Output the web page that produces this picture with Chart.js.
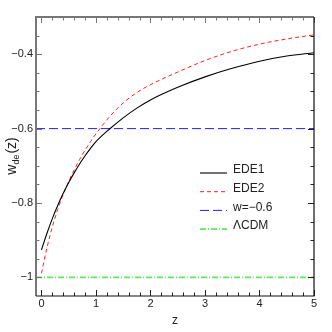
<!DOCTYPE html>
<html>
<head>
<meta charset="utf-8">
<script src="https://cdn.jsdelivr.net/npm/chart.js@4.4.1/dist/chart.umd.min.js"></script>
<style>
  html, body { margin: 0; padding: 0; background: #fff; }
  #wrap { width: 332px; height: 332px; }
</style>
</head>
<body>
<div id="wrap"><canvas id="grafico" width="332" height="332"></canvas></div>
<script>
// datos
const zValues = [0, 0.1, 0.2, 0.3, 0.4, 0.5, 0.6, 0.7, 0.8, 0.9, 1.0, 1.25, 1.5, 1.75, 2.0, 2.5, 3.0, 3.5, 4.0, 4.5, 5.0];
const ede1 = [-0.926, -0.882, -0.842, -0.806, -0.774, -0.745, -0.719, -0.695, -0.673, -0.653, -0.635, -0.601, -0.571, -0.545, -0.523, -0.489, -0.461, -0.438, -0.419, -0.405, -0.396];
const ede2 = [-0.989, -0.921, -0.864, -0.817, -0.777, -0.742, -0.711, -0.683, -0.658, -0.635, -0.614, -0.568, -0.531, -0.503, -0.482, -0.448, -0.417, -0.392, -0.373, -0.359, -0.348];
const wConst = -0.6;
const wLCDM = -1;
const zRange = [-0.1, 5];
const xTicks = [0, 1, 2, 3, 4, 5];
const yTicks = [-1, -0.8, -0.6, -0.4];
const etiquetas = ['EDE1', 'EDE2', 'w=\u22120.6', '\u039BCDM'];

const fuente = '"Liberation Sans", Arial, Helvetica, sans-serif';

const pts = (ys) => zValues.map((z, i) => ({ x: z, y: ys[i] }));
const linea = (y) => zRange.map(z => ({ x: z, y: y }));

const fmtY = v => (v < 0 ? '\u2212' : '') + (Math.abs(v) === 1 ? '1' : Math.abs(v).toFixed(1));

// marco, ticks interiores, titulos y leyenda
const marco = {
    id: 'marco',
    afterDatasetsDraw(chart) {
        const ctx = chart.ctx;
        const a = chart.chartArea;
        const sx = chart.scales.x, sy = chart.scales.y;
        ctx.save();

        // ticks menores y mayores hacia adentro
        const tickX = (v, len, top, color) => {
            const px = Math.round(sx.getPixelForValue(v)) + 0.5;
            ctx.strokeStyle = color;
            ctx.lineWidth = 1;
            ctx.beginPath();
            if (top) { ctx.moveTo(px, a.top); ctx.lineTo(px, a.top + len); }
            else { ctx.moveTo(px, a.bottom); ctx.lineTo(px, a.bottom - len); }
            ctx.stroke();
        };
        const tickY = (v, len, left, color) => {
            const py = Math.round(sy.getPixelForValue(v)) + 0.5;
            ctx.strokeStyle = color;
            ctx.lineWidth = 1;
            ctx.beginPath();
            if (left) { ctx.moveTo(a.left, py); ctx.lineTo(a.left + len, py); }
            else { ctx.moveTo(a.right, py); ctx.lineTo(a.right - len, py); }
            ctx.stroke();
        };
        for (let i = 0; i <= 25; i++) {
            const v = i * 0.2;
            const major = i % 5 === 0;
            tickX(v, major ? 6 : 3.5, true, '#777');
            tickX(v, major ? 6 : 3.5, false, '#222');
        }
        for (let i = 0; i <= 14; i++) {
            const v = -1 + i * 0.05;
            if (v > -0.3) break;
            const major = i % 4 === 0;
            tickY(v, major ? 6 : 3.5, true, '#777');
            tickY(v, major ? 6 : 3.5, false, '#222');
        }

        // bordes
        ctx.lineWidth = 2;
        ctx.strokeStyle = '#777';
        ctx.beginPath();
        ctx.moveTo(a.left, a.bottom);
        ctx.lineTo(a.left, a.top);
        ctx.lineTo(a.right, a.top);
        ctx.stroke();
        ctx.lineWidth = 1.2;
        ctx.strokeStyle = '#111';
        ctx.beginPath();
        ctx.moveTo(a.right, a.top);
        ctx.lineTo(a.right, a.bottom);
        ctx.lineTo(a.left, a.bottom);
        ctx.stroke();

        // titulo eje x
        ctx.fillStyle = '#222';
        ctx.font = '12px ' + fuente;
        ctx.textAlign = 'center';
        ctx.textBaseline = 'alphabetic';
        ctx.fillText('z', (a.left + a.right) / 2, 324);

        // titulo eje y: w_de(z)
        ctx.save();
        ctx.translate(16, 156);
        ctx.rotate(-Math.PI / 2);
        ctx.textAlign = 'left';
        const f1 = '14px ' + fuente, f2 = '9px ' + fuente;
        ctx.font = f1;
        const wW = ctx.measureText('w').width;
        ctx.font = f2;
        const wDe = ctx.measureText('de').width;
        ctx.font = f1;
        const wZ = ctx.measureText('(z)').width;
        let x0 = -(wW + wDe + wZ + 1) / 2;
        ctx.fillText('w', x0, 0);
        ctx.font = f2;
        ctx.fillText('de', x0 + wW, 3);
        ctx.font = f1;
        ctx.fillText('(z)', x0 + wW + wDe + 1, 0);
        ctx.restore();

        // leyenda
        ctx.font = '12px ' + fuente;
        ctx.textAlign = 'left';
        ctx.textBaseline = 'middle';
        chart.data.datasets.forEach((ds, i) => {
            const y = 173 + i * 18.7;
            ctx.strokeStyle = ds.borderColor;
            ctx.lineWidth = ds.borderWidth;
            ctx.setLineDash(ds.borderDash || []);
            ctx.beginPath();
            ctx.moveTo(200, y);
            ctx.lineTo(227, y);
            ctx.stroke();
            ctx.setLineDash([]);
            ctx.fillStyle = '#222';
            ctx.fillText(ds.label, 233, y - 3);
        });
        ctx.restore();
    }
};

new Chart(document.getElementById('grafico').getContext('2d'), {
    type: 'line',
    data: {
        datasets: [{
            label: etiquetas[0],
            data: pts(ede1),
            borderColor: '#000000',
            borderWidth: 1.1,
            borderDash: [],
            cubicInterpolationMode: 'monotone',
            pointRadius: 0
        }, {
            label: etiquetas[1],
            data: pts(ede2),
            borderColor: '#ff2020',
            borderWidth: 1,
            borderDash: [4, 3],
            cubicInterpolationMode: 'monotone',
            pointRadius: 0
        }, {
            label: etiquetas[2],
            data: linea(wConst),
            borderColor: '#2020ff',
            borderWidth: 1,
            borderDash: [9, 4],
            pointRadius: 0
        }, {
            label: etiquetas[3],
            data: linea(wLCDM),
            borderColor: '#5ee85e',
            borderWidth: 1.6,
            borderDash: [6, 2, 1, 2],
            pointRadius: 0
        }]
    },
    options: {
        responsive: false,
        animation: false,
        events: [],
        layout: { padding: { top: 17, right: 18, left: 0, bottom: 0 } },
        plugins: { legend: { display: false }, tooltip: { enabled: false } },
        scales: {
            x: {
                type: 'linear',
                min: zRange[0],
                max: zRange[1],
                afterBuildTicks: s => { s.ticks = xTicks.map(v => ({ value: v })); },
                afterFit: s => { s.height = 36; },
                grid: { display: false, drawTicks: false },
                border: { display: false },
                ticks: {
                    padding: 1,
                    color: '#222',
                    font: { family: fuente, size: 11 },
                    maxRotation: 0,
                    callback: v => String(v)
                }
            },
            y: {
                type: 'linear',
                min: -1.05,
                max: -0.3,
                afterBuildTicks: s => { s.ticks = yTicks.map(v => ({ value: v })); },
                afterFit: s => { s.width = 36; },
                grid: { display: false, drawTicks: false },
                border: { display: false },
                ticks: {
                    padding: 3,
                    color: '#222',
                    font: { family: fuente, size: 11 },
                    callback: v => fmtY(v)
                }
            }
        }
    },
    plugins: [marco]
});
</script>
</body>
</html>
